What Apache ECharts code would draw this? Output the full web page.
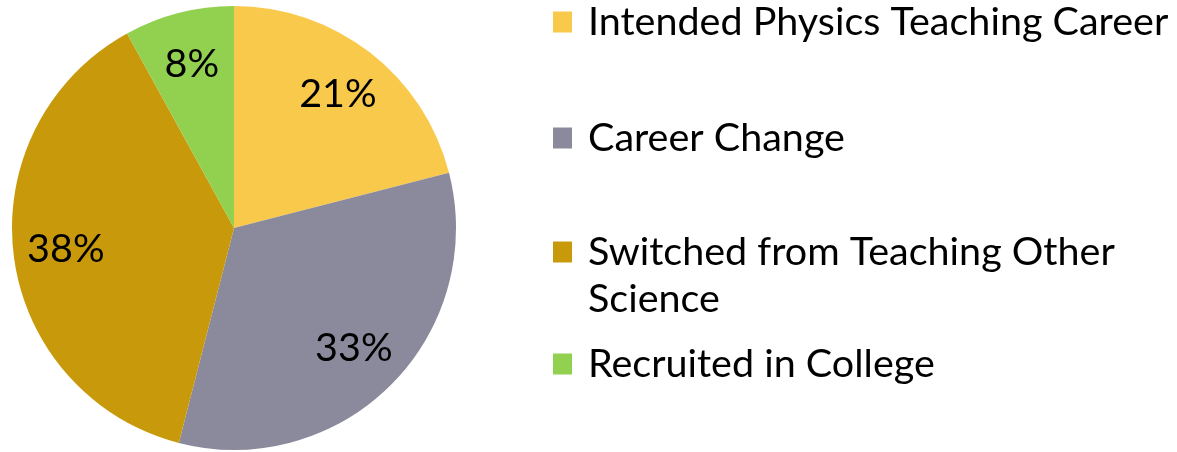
<!DOCTYPE html>
<html>
<head>
<meta charset="utf-8">
<script src="https://cdn.jsdelivr.net/npm/echarts@6/dist/echarts.min.js"></script>
<style>html,body{margin:0;padding:0;background:#fff;}#c{width:1177px;height:452px;}</style>
</head>
<body>
<div id="c"></div>
<script>
const categories = ['Intended Physics Teaching Career', 'Career Change', 'Switched from Teaching Other Science', 'Recruited in College'];
const values = [21, 33, 38, 8];
const colors = ['#F8C94A', '#8B8A9C', '#C89A0B', '#92D050'];
const legendLabels = ['Intended Physics Teaching Career', 'Career Change', '\nSwitched from Teaching Other\nScience', 'Recruited in College'];

const FONT = 'Lato';
const FS = 39.5;
const LH = 47;
const center = [234, 228];
const R = 222;

const data = categories.map((c, i) => ({ name: c, value: values[i], itemStyle: { color: colors[i] } }));
const legendCenters = [22, 138, 252, 364];

const legends = categories.map((c, i) => {
  const multi = legendLabels[i].indexOf('\n') >= 0;
  return {
    data: [c],
    left: 553,
    top: multi ? legendCenters[i] - 1.5 * LH : legendCenters[i] - LH / 2,
    padding: 0,
    orient: 'vertical',
    itemWidth: 19,
    itemHeight: 21,
    icon: 'rect',
    selectedMode: false,
    formatter: () => legendLabels[i],
    textStyle: {
      fontFamily: FONT, fontSize: FS, color: '#000', lineHeight: LH,
      padding: [0, 0, 0, 11]
    }
  };
});

const chart = echarts.init(document.getElementById('c'), null, { renderer: 'canvas' });
chart.setOption({
  animation: false,
  legend: legends,
  series: [
    {
      type: 'pie',
      center: center,
      radius: [0, R],
      startAngle: 90,
      clockwise: true,
      data: data,
      label: { show: false },
      labelLine: { show: false },
      itemStyle: { borderWidth: 0 },
      emphasis: { disabled: true }
    },
    {
      type: 'pie',
      center: center,
      radius: [R * 0.5, R],
      startAngle: 90,
      clockwise: true,
      silent: true,
      data: categories.map((c, i) => ({ name: c, value: values[i], itemStyle: { color: 'rgba(0,0,0,0)' } })),
      label: {
        show: true, position: 'inside',
        formatter: p => p.value + '%',
        fontFamily: FONT, fontSize: FS, color: '#000'
      },
      labelLine: { show: false },
      itemStyle: { borderWidth: 0 },
      emphasis: { disabled: true }
    }
  ]
});
</script>
</body>
</html>
